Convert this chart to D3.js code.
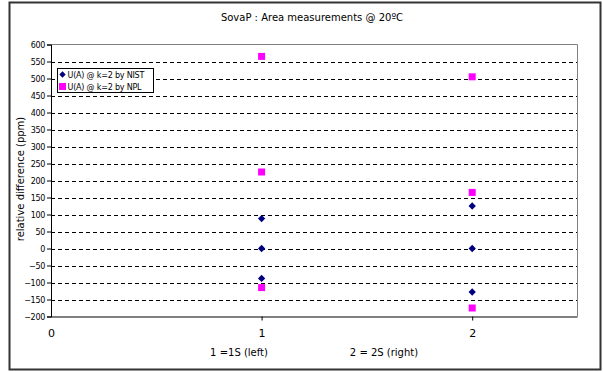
<!DOCTYPE html>
<html>
<head>
<meta charset="utf-8">
<script src="https://cdn.jsdelivr.net/npm/d3@7"></script>
<style>
  body { margin: 0; background: #fff; }
  text { font-family: "DejaVu Sans", Verdana, sans-serif; }
</style>
</head>
<body>
<svg id="chart" width="603" height="372"></svg>
<script>
"use strict";

// data
let positions = [1, 1, 1, 2, 2, 2];
let nistValues = [88, 0, -88, 125, 0, -128];
let nplValues = [565, 225, -115, 505, 165, -175];
let yTicks = d3.range(-200, 601, 50);
let xTicks = [0, 1, 2];
let seriesNames = ["U(A) @ k=2 by NIST", "U(A) @ k=2 by NPL"];

let svg = d3.select("#chart");

// outer chart frame
svg.append("rect")
  .attr("x", 9.5).attr("y", 2.5)
  .attr("width", 591).attr("height", 367)
  .attr("fill", "#fff")
  .attr("stroke", "#333").attr("stroke-width", 2);

let plot = { left: 51, top: 44.5, right: 577.5, bottom: 316.5 };

let x = d3.scaleLinear().domain([0, 2.5]).range([plot.left, plot.right]);
let y = d3.scaleLinear().domain([-200, 600]).range([plot.bottom, plot.top]);

// grid lines
svg.append("g").selectAll("line")
  .data(yTicks.filter(d => d > -200 && d < 600))
  .enter().append("line")
  .attr("x1", plot.left).attr("x2", plot.right)
  .attr("y1", d => Math.round(y(d)) + 0.5).attr("y2", d => Math.round(y(d)) + 0.5)
  .attr("stroke", "#000").attr("stroke-width", 1)
  .attr("stroke-dasharray", "4,3");

// plot border (top/right grey)
svg.append("path")
  .attr("d", `M${plot.left},${plot.top}H${plot.right}V${plot.bottom}`)
  .attr("fill", "none").attr("stroke", "#808080").attr("stroke-width", 1);

// y axis
let yAxis = svg.append("g")
  .attr("transform", `translate(${plot.left},0)`)
  .call(d3.axisLeft(y).tickValues(yTicks).tickSize(4).tickPadding(2));
yAxis.select(".domain").attr("stroke", "#000");
yAxis.selectAll("text").style("font-size", "8px").attr("fill", "#000")
  .attr("letter-spacing", "-0.3px");

// x axis
let xAxis = svg.append("g")
  .attr("transform", `translate(0,${plot.bottom})`)
  .call(d3.axisBottom(x).tickValues(xTicks).tickFormat(d3.format("d")).tickSize(4).tickPadding(9));
xAxis.select(".domain").attr("stroke", "#000").attr("d", `M${plot.left},0.5H${plot.right}`);
xAxis.selectAll(".tick line").attr("stroke", d => d === 0 ? "none" : "#000");
xAxis.selectAll("text").style("font-size", "11px").attr("fill", "#000");

// titles
svg.append("text")
  .attr("x", 312).attr("y", 21)
  .attr("text-anchor", "middle")
  .style("font-size", "10px")
  .text("SovaP : Area measurements @ 20ºC");

svg.append("text")
  .attr("transform", "translate(24,179) rotate(-90)")
  .attr("text-anchor", "middle")
  .style("font-size", "10px")
  .text("relative difference (ppm)");

svg.append("text")
  .attr("x", 239).attr("y", 356)
  .attr("text-anchor", "middle")
  .style("font-size", "10px")
  .text("1 =1S (left)");

svg.append("text")
  .attr("x", 384).attr("y", 356)
  .attr("text-anchor", "middle")
  .style("font-size", "10px")
  .text("2 = 2S (right)");

// points
let nistData = positions.map((p, i) => ({ x: p, y: nistValues[i] }));
let nplData = positions.map((p, i) => ({ x: p, y: nplValues[i] }));

svg.append("g").selectAll("rect")
  .data(nplData)
  .enter().append("rect")
  .attr("x", d => x(d.x) - 3.5)
  .attr("y", d => y(d.y) - 3.5)
  .attr("width", 7).attr("height", 7)
  .attr("fill", "#ff00ff");

let diamond = d3.symbol().type(d3.symbolDiamond2).size(34);
svg.append("g").selectAll("path")
  .data(nistData)
  .enter().append("path")
  .attr("transform", d => `translate(${x(d.x)},${y(d.y)})`)
  .attr("d", diamond)
  .attr("fill", "#000080");

// legend
let legend = svg.append("g").attr("transform", "translate(57.5,68.5)");
legend.append("rect")
  .attr("width", 96).attr("height", 24)
  .attr("fill", "#fff").attr("stroke", "#000");
legend.append("path")
  .attr("transform", "translate(5,6)")
  .attr("d", d3.symbol().type(d3.symbolDiamond2).size(26))
  .attr("fill", "#000080");
legend.append("rect")
  .attr("x", 1.5).attr("y", 14.5).attr("width", 7).attr("height", 7)
  .attr("fill", "#ff00ff");
legend.selectAll("text.lbl")
  .data(seriesNames)
  .enter().append("text")
  .attr("class", "lbl")
  .attr("x", 10).attr("y", (d, i) => 9 + i * 12)
  .style("font-size", "8px")
  .attr("letter-spacing", "-0.2px")
  .text(d => d);
</script>
</body>
</html>
